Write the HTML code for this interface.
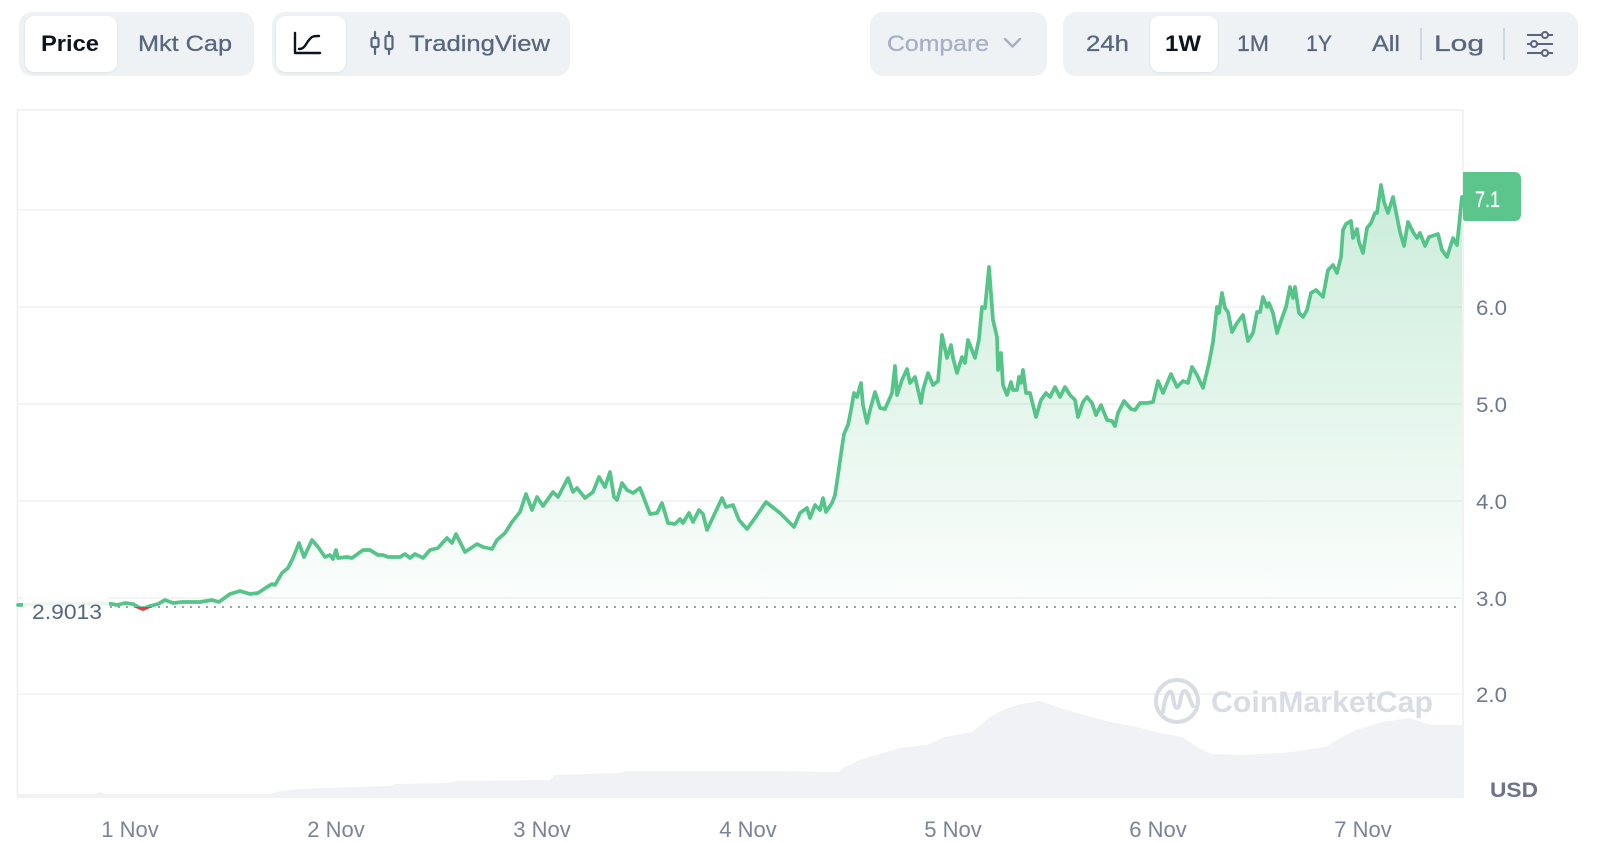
<!DOCTYPE html>
<html>
<head>
<meta charset="utf-8">
<style>
  html,body{margin:0;padding:0;background:#fff;}
  body{width:1604px;height:842px;overflow:hidden;}
  svg{display:block;font-family:"Liberation Sans",Arial,sans-serif;}
</style>
</head>
<body>
<svg width="1604" height="842" viewBox="0 0 1604 842" xmlns="http://www.w3.org/2000/svg">
  <defs>
    <linearGradient id="fillg" gradientUnits="userSpaceOnUse" x1="0" y1="185" x2="0" y2="607">
      <stop offset="0" stop-color="#5bc58c" stop-opacity="0.32"/>
      <stop offset="1" stop-color="#5bc58c" stop-opacity="0.02"/>
    </linearGradient>
    <clipPath id="above"><rect x="0" y="0" width="1604" height="607"/></clipPath>
    <clipPath id="below"><rect x="0" y="607" width="1604" height="235"/></clipPath>
    <filter id="sh" x="-10%" y="-20%" width="120%" height="150%">
      <feDropShadow dx="0" dy="1" stdDeviation="1.2" flood-color="#000" flood-opacity="0.08"/>
    </filter>
  </defs>

  <!-- Top controls -->
  <rect x="19" y="12" width="235" height="64" rx="13" fill="#eff2f5"/>
  <rect x="25" y="16" width="92" height="56" rx="10" fill="#fff" filter="url(#sh)"/>
  <text x="41" y="51" font-size="22" font-weight="bold" fill="#0d1421" textLength="58" lengthAdjust="spacingAndGlyphs">Price</text>
  <text x="138" y="51" font-size="22" fill="#58667e" stroke="#58667e" stroke-width="0.3" textLength="94" lengthAdjust="spacingAndGlyphs">Mkt Cap</text>

  <rect x="272" y="12" width="298" height="64" rx="13" fill="#eff2f5"/>
  <rect x="276" y="16" width="70" height="56" rx="10" fill="#fff" filter="url(#sh)"/>
  <path d="M295 33 L295 53 L320 53" fill="none" stroke="#0d1421" stroke-width="2.4" stroke-linecap="round" stroke-linejoin="round"/>
  <path d="M299 49 C305 49 306 43 309 40 C312 36 314 36 319 36" fill="none" stroke="#0d1421" stroke-width="2.4" stroke-linecap="round"/>
  <!-- candlestick icon -->
  <g stroke="#58667e" stroke-width="2.2" fill="none" stroke-linecap="round">
    <line x1="375" y1="32" x2="375" y2="54"/>
    <rect x="371.5" y="38" width="7" height="9" rx="1.5" fill="#eff2f5"/>
    <line x1="389" y1="32" x2="389" y2="54"/>
    <rect x="385.5" y="36" width="7" height="13" rx="1.5" fill="#eff2f5"/>
  </g>
  <text x="409" y="51" font-size="22" fill="#58667e" stroke="#58667e" stroke-width="0.3" textLength="141" lengthAdjust="spacingAndGlyphs">TradingView</text>

  <rect x="870" y="12" width="177" height="64" rx="13" fill="#eff2f5"/>
  <text x="887" y="51" font-size="22" fill="#a6b0c3" stroke="#a6b0c3" stroke-width="0.3" textLength="102" lengthAdjust="spacingAndGlyphs">Compare</text>
  <path d="M1005 39 L1012.5 46.5 L1020 39" fill="none" stroke="#a6b0c3" stroke-width="2.4" stroke-linecap="round" stroke-linejoin="round"/>

  <rect x="1063" y="12" width="515" height="64" rx="13" fill="#eff2f5"/>
  <rect x="1150" y="16" width="68" height="56" rx="10" fill="#fff" filter="url(#sh)"/>
  <g font-size="22" fill="#58667e" stroke="#58667e" stroke-width="0.3">
    <text x="1086" y="51" textLength="43" lengthAdjust="spacingAndGlyphs">24h</text>
    <text x="1237" y="51" textLength="32" lengthAdjust="spacingAndGlyphs">1M</text>
    <text x="1306" y="51" textLength="26" lengthAdjust="spacingAndGlyphs">1Y</text>
    <text x="1372" y="51" textLength="28" lengthAdjust="spacingAndGlyphs">All</text>
    <text x="1434" y="51" textLength="50" lengthAdjust="spacingAndGlyphs">Log</text>
  </g>
  <text x="1165" y="51" font-size="22" font-weight="bold" fill="#0d1421" textLength="36" lengthAdjust="spacingAndGlyphs">1W</text>
  <line x1="1421" y1="28" x2="1421" y2="60" stroke="#cfd6e4" stroke-width="2"/>
  <line x1="1504" y1="28" x2="1504" y2="60" stroke="#cfd6e4" stroke-width="2"/>
  <!-- settings icon -->
  <g stroke="#58667e" stroke-width="2" fill="#eff2f5">
    <line x1="1527" y1="35" x2="1553" y2="35"/>
    <line x1="1527" y1="44" x2="1553" y2="44"/>
    <line x1="1527" y1="53" x2="1553" y2="53"/>
    <circle cx="1545" cy="35" r="3"/>
    <circle cx="1534" cy="44" r="3"/>
    <circle cx="1545" cy="53" r="3"/>
  </g>

  <!-- Plot frame -->
  <rect x="17.5" y="110" width="1445.5" height="687" fill="#fff" stroke="#eceef1" stroke-width="1.5"/>

  <!-- gridlines -->
  <g stroke="#eff1f4" stroke-width="1.5">
    <line x1="18" y1="210" x2="1463" y2="210"/>
    <line x1="18" y1="307" x2="1463" y2="307"/>
    <line x1="18" y1="404" x2="1463" y2="404"/>
    <line x1="18" y1="501" x2="1463" y2="501"/>
    <line x1="18" y1="598" x2="1463" y2="598"/>
    <line x1="18" y1="694" x2="1463" y2="694"/>
  </g>

  <!-- volume -->
  <path d="M18 797 L18 794 L95 794 L100 792 L105 794 L270 794 L280 791 L300 789 L390 786 L395 784 L450 783 L455 781 L550 780 L555 775 L620 773 L625 771 L780 771 L838 772 L845 767 L860 760 L883 753 L900 748 L927 745 L945 737 L972 732 L990 717 L1003 710 L1021 704 L1041 701 L1057 707 L1084 715 L1110 722 L1137 727 L1159 733 L1182 737 L1197 747 L1211 754 L1240 755 L1284 753 L1325 747 L1342 737 L1356 730 L1383 722 L1409 718 L1432 725 L1462 725 L1462 797 Z" fill="#f1f2f6"/>

  <!-- watermark -->
  <g opacity="0.9">
    <circle cx="1177" cy="701" r="21" fill="none" stroke="#d5d9e3" stroke-width="4"/>
    <path d="M1163 712 C1164 700 1168 690 1171 692 C1174 694 1173 708 1177 708 C1181 708 1180 692 1184 691 C1188 690 1190 702 1193 706" fill="none" stroke="#d5d9e3" stroke-width="4" stroke-linecap="round"/>
    <text x="1211" y="712" font-size="30" font-weight="bold" fill="#d5d9e3" textLength="222" lengthAdjust="spacingAndGlyphs">CoinMarketCap</text>
  </g>

  <!-- price fill -->
  <g clip-path="url(#above)">
    <path fill="url(#fillg)" d="M18 607 L18 605 L40 604 L60 603 L80 604 L100 603 L112 604 L117 605 L125 603 L133 604 L138 607 L143 609 L150 606 L158 604 L165 600 L173 603 L182 602 L193 602 L200 602 L212 600 L219 602 L230 594 L240 591 L250 594 L258 593 L267 587 L272 584 L275 585 L282 573 L288 568 L293 558 L299 543 L304 557 L312 540 L318 547 L325 557 L330 555 L333 559 L336 550 L338 558 L347 557 L352 558 L363 550 L370 550 L378 555 L383 555 L388 557 L400 557 L405 554 L410 558 L415 554 L423 558 L430 550 L438 548 L447 538 L452 543 L456 534 L465 552 L477 544 L483 547 L492 549 L497 540 L505 533 L512 522 L520 512 L526 494 L532 510 L537 497 L543 506 L553 492 L558 497 L568 478 L573 492 L577 488 L585 498 L593 492 L599 477 L605 487 L610 472 L614 497 L617 500 L622 483 L627 490 L633 493 L640 488 L650 514 L657 513 L662 503 L668 523 L675 524 L680 519 L683 523 L689 513 L693 522 L699 510 L703 514 L707 530 L715 513 L722 498 L726 507 L733 505 L739 520 L747 529 L755 518 L766 502 L780 513 L787 520 L794 527 L800 513 L807 508 L810 518 L815 505 L820 510 L823 498 L826 512 L832 503 L835 495 L838 475 L842 447 L844 434 L848 425 L851 410 L854 393 L857 397 L861 383 L863 405 L867 423 L870 410 L875 392 L880 408 L885 409 L892 393 L895 366 L897 395 L902 380 L907 369 L910 383 L915 377 L921 403 L923 390 L928 373 L933 385 L938 381 L942 335 L947 358 L951 345 L953 358 L957 373 L962 357 L965 363 L968 340 L975 358 L979 339 L982 307 L985 308 L989 267 L993 320 L997 337 L998 370 L1001 353 L1003 385 L1007 395 L1011 382 L1013 390 L1017 390 L1019 377 L1021 383 L1023 370 L1026 393 L1030 393 L1036 417 L1041 400 L1046 393 L1050 397 L1055 387 L1060 397 L1065 387 L1070 395 L1075 400 L1078 417 L1083 402 L1087 397 L1092 403 L1096 415 L1101 405 L1107 420 L1112 421 L1115 426 L1118 413 L1124 401 L1131 409 L1135 410 L1140 403 L1147 403 L1153 402 L1158 381 L1163 393 L1171 374 L1177 387 L1183 381 L1188 383 L1192 367 L1197 375 L1203 388 L1209 363 L1213 342 L1217 307 L1219 313 L1222 293 L1225 308 L1228 312 L1232 332 L1237 323 L1243 315 L1248 341 L1253 333 L1257 312 L1260 312 L1263 297 L1267 307 L1269 303 L1273 313 L1277 333 L1282 318 L1286 307 L1290 287 L1293 298 L1295 287 L1299 313 L1303 317 L1307 310 L1311 293 L1316 290 L1323 297 L1328 270 L1333 265 L1337 273 L1341 257 L1343 230 L1346 224 L1351 221 L1353 238 L1357 229 L1359 242 L1363 253 L1367 228 L1371 223 L1375 213 L1377 213 L1381 185 L1384 202 L1388 213 L1393 197 L1396 212 L1400 232 L1404 246 L1408 222 L1413 232 L1417 238 L1420 233 L1425 246 L1429 237 L1438 234 L1442 250 L1447 257 L1453 238 L1457 245 L1462 197 L1462 607 Z"/>
  </g>

  <!-- baseline dotted -->
  <line x1="110" y1="607" x2="1462" y2="607" stroke="#8f96a3" stroke-width="1.8" stroke-dasharray="2 6"/>

  <!-- price line -->
  <path id="pl" fill="none" stroke-width="3.7" stroke-linejoin="round" stroke-linecap="round" d="M18 605 L40 604 L60 603 L80 604 L100 603 L112 604 L117 605 L125 603 L133 604 L138 607 L143 609 L150 606 L158 604 L165 600 L173 603 L182 602 L193 602 L200 602 L212 600 L219 602 L230 594 L240 591 L250 594 L258 593 L267 587 L272 584 L275 585 L282 573 L288 568 L293 558 L299 543 L304 557 L312 540 L318 547 L325 557 L330 555 L333 559 L336 550 L338 558 L347 557 L352 558 L363 550 L370 550 L378 555 L383 555 L388 557 L400 557 L405 554 L410 558 L415 554 L423 558 L430 550 L438 548 L447 538 L452 543 L456 534 L465 552 L477 544 L483 547 L492 549 L497 540 L505 533 L512 522 L520 512 L526 494 L532 510 L537 497 L543 506 L553 492 L558 497 L568 478 L573 492 L577 488 L585 498 L593 492 L599 477 L605 487 L610 472 L614 497 L617 500 L622 483 L627 490 L633 493 L640 488 L650 514 L657 513 L662 503 L668 523 L675 524 L680 519 L683 523 L689 513 L693 522 L699 510 L703 514 L707 530 L715 513 L722 498 L726 507 L733 505 L739 520 L747 529 L755 518 L766 502 L780 513 L787 520 L794 527 L800 513 L807 508 L810 518 L815 505 L820 510 L823 498 L826 512 L832 503 L835 495 L838 475 L842 447 L844 434 L848 425 L851 410 L854 393 L857 397 L861 383 L863 405 L867 423 L870 410 L875 392 L880 408 L885 409 L892 393 L895 366 L897 395 L902 380 L907 369 L910 383 L915 377 L921 403 L923 390 L928 373 L933 385 L938 381 L942 335 L947 358 L951 345 L953 358 L957 373 L962 357 L965 363 L968 340 L975 358 L979 339 L982 307 L985 308 L989 267 L993 320 L997 337 L998 370 L1001 353 L1003 385 L1007 395 L1011 382 L1013 390 L1017 390 L1019 377 L1021 383 L1023 370 L1026 393 L1030 393 L1036 417 L1041 400 L1046 393 L1050 397 L1055 387 L1060 397 L1065 387 L1070 395 L1075 400 L1078 417 L1083 402 L1087 397 L1092 403 L1096 415 L1101 405 L1107 420 L1112 421 L1115 426 L1118 413 L1124 401 L1131 409 L1135 410 L1140 403 L1147 403 L1153 402 L1158 381 L1163 393 L1171 374 L1177 387 L1183 381 L1188 383 L1192 367 L1197 375 L1203 388 L1209 363 L1213 342 L1217 307 L1219 313 L1222 293 L1225 308 L1228 312 L1232 332 L1237 323 L1243 315 L1248 341 L1253 333 L1257 312 L1260 312 L1263 297 L1267 307 L1269 303 L1273 313 L1277 333 L1282 318 L1286 307 L1290 287 L1293 298 L1295 287 L1299 313 L1303 317 L1307 310 L1311 293 L1316 290 L1323 297 L1328 270 L1333 265 L1337 273 L1341 257 L1343 230 L1346 224 L1351 221 L1353 238 L1357 229 L1359 242 L1363 253 L1367 228 L1371 223 L1375 213 L1377 213 L1381 185 L1384 202 L1388 213 L1393 197 L1396 212 L1400 232 L1404 246 L1408 222 L1413 232 L1417 238 L1420 233 L1425 246 L1429 237 L1438 234 L1442 250 L1447 257 L1453 238 L1457 245 L1462 197"/>
  <g clip-path="url(#above)"><use href="#pl" stroke="#55c488"/></g>
  <g clip-path="url(#below)"><use href="#pl" stroke="#ea3943"/></g>

  <!-- baseline label -->
  <rect x="23" y="596" width="86" height="26" fill="#fff" opacity="0.88"/>
  <text x="32" y="619" font-size="21" fill="#58667e" textLength="70" lengthAdjust="spacingAndGlyphs">2.9013</text>

  <!-- y axis labels -->
  <g font-size="21" fill="#6f7a91">
    <text x="1476" y="315" textLength="31" lengthAdjust="spacingAndGlyphs">6.0</text>
    <text x="1476" y="412" textLength="31" lengthAdjust="spacingAndGlyphs">5.0</text>
    <text x="1476" y="509" textLength="31" lengthAdjust="spacingAndGlyphs">4.0</text>
    <text x="1476" y="606" textLength="31" lengthAdjust="spacingAndGlyphs">3.0</text>
    <text x="1476" y="702" textLength="31" lengthAdjust="spacingAndGlyphs">2.0</text>
  </g>
  <text x="1490" y="797" font-size="21" font-weight="bold" fill="#6b7489" textLength="48" lengthAdjust="spacingAndGlyphs">USD</text>

  <!-- current price tag -->
  <path d="M1463 172 L1514 172 Q1521 172 1521 179 L1521 214 Q1521 221 1514 221 L1466 221 Q1463 221 1463 218 Z" fill="#5bc58b"/>
  <text x="1475" y="207" font-size="22" fill="#fff" stroke="#fff" stroke-width="0.3" textLength="25" lengthAdjust="spacingAndGlyphs">7.1</text>

  <!-- x axis labels -->
  <g font-size="22" fill="#7a8398" text-anchor="middle">
    <text x="130" y="837">1 Nov</text>
    <text x="336" y="837">2 Nov</text>
    <text x="542" y="837">3 Nov</text>
    <text x="748" y="837">4 Nov</text>
    <text x="953" y="837">5 Nov</text>
    <text x="1158" y="837">6 Nov</text>
    <text x="1363" y="837">7 Nov</text>
  </g>
</svg>
</body>
</html>
